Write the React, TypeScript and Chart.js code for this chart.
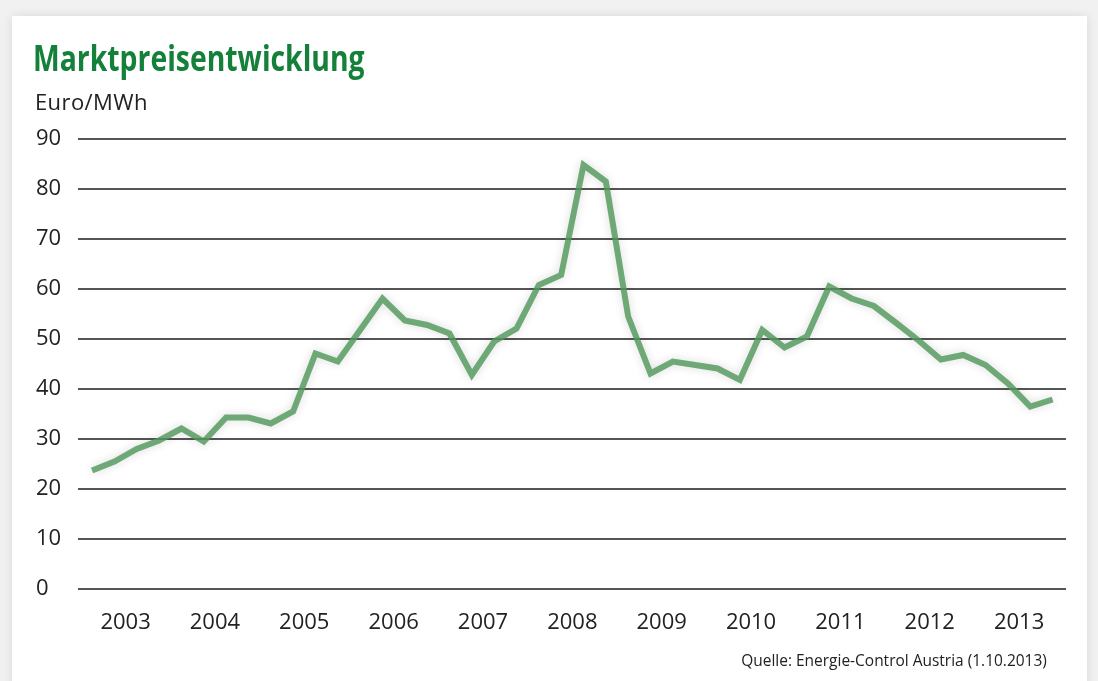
import React, { useEffect, useRef } from "react";
import { Chart, registerables } from "chart.js";

Chart.register(...registerables);

// Year labels on the x axis (each year holds four quarterly values)
const years = ["2003", "2004", "2005", "2006", "2007", "2008", "2009", "2010", "2011", "2012", "2013"];
const quartersPerYear = 4;

// Quarterly market price, Euro/MWh (2003 Q1 .. 2013 Q4)
const prices = [
  23.7, 25.5, 28.0, 29.7,
  32.1, 29.5, 34.3, 34.3,
  33.1, 35.5, 47.1, 45.5,
  51.8, 58.1, 53.7, 52.8,
  51.1, 42.8, 49.5, 52.1,
  60.8, 62.8, 84.8, 81.5,
  54.5, 43.1, 45.5, 44.8,
  44.1, 41.8, 51.8, 48.3,
  50.5, 60.5, 58.1, 56.6,
  53.2, 49.7, 45.9, 46.8,
  44.8, 41.1, 36.5, 37.9,
];

const yTicks = [0, 10, 20, 30, 40, 50, 60, 70, 80, 90];

const titleText = "Marktpreisentwicklung";
const unitText = "Euro/MWh";
const sourceText = "Quelle: Energie-Control Austria (1.10.2013)";

const FONT = "'Open Sans', 'Noto Sans', 'DejaVu Sans', sans-serif";

export default function App() {
  const canvasRef = useRef<HTMLCanvasElement | null>(null);

  useEffect(() => {
    document.body.style.margin = "0";
    const canvas = canvasRef.current;
    if (!canvas) return;

    const points = prices.map((v, i) => ({ x: i, y: v }));
    const yearCenters = years.map((_, k) => k * quartersPerYear + (quartersPerYear - 1) / 2);

    const lineShadow = {
      id: "lineShadow",
      beforeDatasetDraw(chart: any) {
        const ctx = chart.ctx;
        ctx.save();
        ctx.shadowColor = "rgba(0,0,0,0.18)";
        ctx.shadowBlur = 10;
      },
      afterDatasetDraw(chart: any) {
        chart.ctx.restore();
      },
    };

    const chart = new Chart(canvas, {
      type: "line",
      data: {
        datasets: [
          {
            data: points,
            borderColor: "rgba(81,152,91,0.82)",
            borderWidth: 6,
            borderJoinStyle: "miter",
            borderCapStyle: "butt",
            pointRadius: 0,
            tension: 0,
            fill: false,
          },
        ],
      },
      options: {
        animation: false,
        responsive: false,
        devicePixelRatio: 1,
        layout: { padding: { left: 36, right: 32, top: 139, bottom: 32 } },
        plugins: {
          legend: { display: false },
          tooltip: { enabled: false },
          title: { display: false },
        },
        scales: {
          x: {
            type: "linear",
            min: -0.63,
            max: 43.6,
            grid: { display: false, drawTicks: false },
            border: { display: false },
            afterBuildTicks: (scale: any) => {
              scale.ticks = yearCenters.map((v) => ({ value: v }));
            },
            afterFit: (scale: any) => {
              scale.height = 60;
            },
            ticks: {
              autoSkip: false,
              maxRotation: 0,
              minRotation: 0,
              padding: 21,
              color: "#222",
              font: { family: FONT, size: 22 },
              callback: (value: any) => {
                const k = yearCenters.findIndex((c) => Math.abs(c - Number(value)) < 0.01);
                return k >= 0 ? years[k] : "";
              },
            },
          },
          y: {
            type: "linear",
            min: 0,
            max: 90,
            grid: { color: "#555", lineWidth: 2, drawTicks: false },
            border: { display: false },
            afterBuildTicks: (scale: any) => {
              scale.ticks = yTicks.map((v) => ({ value: v }));
            },
            afterFit: (scale: any) => {
              scale.width = 42;
            },
            ticks: {
              crossAlign: "far",
              padding: 10,
              color: "#222",
              font: { family: FONT, size: 22 },
              callback: (value: any) => String(value),
            },
          },
        },
      },
      plugins: [lineShadow],
    });

    return () => chart.destroy();
  }, []);

  return (
    <div
      style={{
        position: "absolute",
        left: 0,
        top: 0,
        width: 1098,
        height: 681,
        overflow: "hidden",
        background: "#f1f1f1",
        fontFamily: FONT,
      }}
    >
      <div
        style={{
          position: "absolute",
          left: 12,
          top: 16,
          width: 1075,
          height: 720,
          background: "#fff",
          boxShadow: "0 0 10px rgba(0,0,0,0.10)",
        }}
      />
      <canvas
        ref={canvasRef}
        width={1098}
        height={681}
        style={{ position: "absolute", left: 0, top: 0, width: 1098, height: 681 }}
      />
      <div
        style={{
          position: "absolute",
          left: 33,
          top: 40,
          fontSize: 35,
          lineHeight: "35px",
          fontWeight: 700,
          color: "#14803a",
          whiteSpace: "nowrap",
          transform: "scaleX(0.81)",
          transformOrigin: "left top",
        }}
      >
        {titleText}
      </div>
      <div
        style={{
          position: "absolute",
          left: 35,
          top: 90,
          fontSize: 22,
          lineHeight: "22px",
          letterSpacing: "0.4px",
          color: "#222",
          whiteSpace: "nowrap",
        }}
      >
        {unitText}
      </div>
      <div
        style={{
          position: "absolute",
          right: 1098 - 1047,
          top: 651,
          fontSize: 17,
          lineHeight: "17px",
          color: "#222",
          whiteSpace: "nowrap",
          transform: "scaleX(0.91)",
          transformOrigin: "right top",
        }}
      >
        {sourceText}
      </div>
    </div>
  );
}
